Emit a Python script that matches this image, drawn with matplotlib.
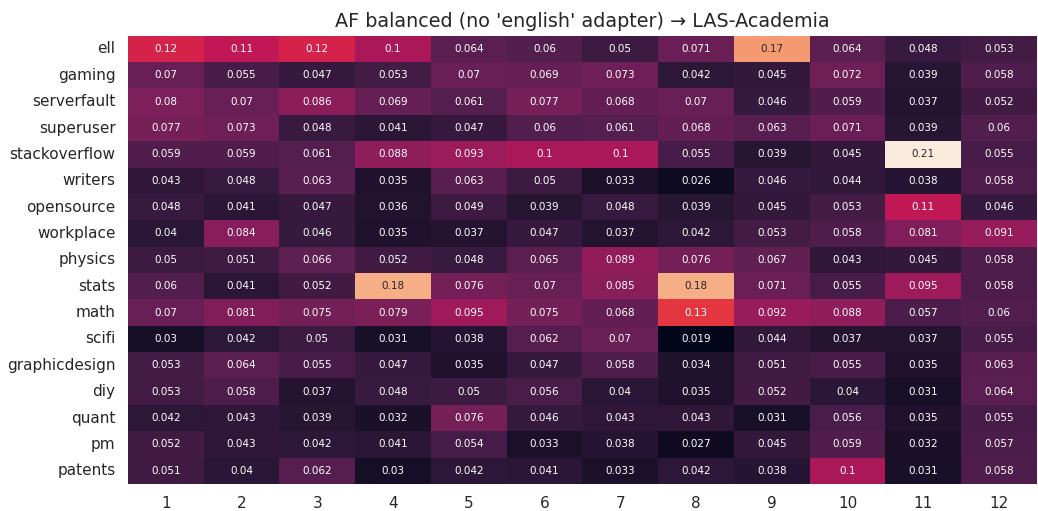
import numpy as np
import matplotlib
matplotlib.use("Agg")
import matplotlib.pyplot as plt
import seaborn as sns

sns.set_theme(style="white")

rows = ["ell", "gaming", "serverfault", "superuser", "stackoverflow", "writers",
        "opensource", "workplace", "physics", "stats", "math", "scifi",
        "graphicdesign", "diy", "quant", "pm", "patents"]
cols = [str(i) for i in range(1, 13)]

ell = [0.12, 0.11, 0.12, 0.1, 0.064, 0.06, 0.05, 0.071, 0.17, 0.064, 0.048, 0.053]
gaming = [0.07, 0.055, 0.047, 0.053, 0.07, 0.069, 0.073, 0.042, 0.045, 0.072, 0.039, 0.058]
serverfault = [0.08, 0.07, 0.086, 0.069, 0.061, 0.077, 0.068, 0.07, 0.046, 0.059, 0.037, 0.052]
superuser = [0.077, 0.073, 0.048, 0.041, 0.047, 0.06, 0.061, 0.068, 0.063, 0.071, 0.039, 0.06]
stackoverflow = [0.059, 0.059, 0.061, 0.088, 0.093, 0.1, 0.1, 0.055, 0.039, 0.045, 0.21, 0.055]
writers = [0.043, 0.048, 0.063, 0.035, 0.063, 0.05, 0.033, 0.026, 0.046, 0.044, 0.038, 0.058]
opensource = [0.048, 0.041, 0.047, 0.036, 0.049, 0.039, 0.048, 0.039, 0.045, 0.053, 0.11, 0.046]
workplace = [0.04, 0.084, 0.046, 0.035, 0.037, 0.047, 0.037, 0.042, 0.053, 0.058, 0.081, 0.091]
physics = [0.05, 0.051, 0.066, 0.052, 0.048, 0.065, 0.089, 0.076, 0.067, 0.043, 0.045, 0.058]
stats = [0.06, 0.041, 0.052, 0.18, 0.076, 0.07, 0.085, 0.18, 0.071, 0.055, 0.095, 0.058]
math = [0.07, 0.081, 0.075, 0.079, 0.095, 0.075, 0.068, 0.13, 0.092, 0.088, 0.057, 0.06]
scifi = [0.03, 0.042, 0.05, 0.031, 0.038, 0.062, 0.07, 0.019, 0.044, 0.037, 0.037, 0.055]
graphicdesign = [0.053, 0.064, 0.055, 0.047, 0.035, 0.047, 0.058, 0.034, 0.051, 0.055, 0.035, 0.063]
diy = [0.053, 0.058, 0.037, 0.048, 0.05, 0.056, 0.04, 0.035, 0.052, 0.04, 0.031, 0.064]
quant = [0.042, 0.043, 0.039, 0.032, 0.076, 0.046, 0.043, 0.043, 0.031, 0.056, 0.035, 0.055]
pm = [0.052, 0.043, 0.042, 0.041, 0.054, 0.033, 0.038, 0.027, 0.045, 0.059, 0.032, 0.057]
patents = [0.051, 0.04, 0.062, 0.03, 0.042, 0.041, 0.033, 0.042, 0.038, 0.1, 0.031, 0.058]

data = np.array([ell, gaming, serverfault, superuser, stackoverflow, writers,
                 opensource, workplace, physics, stats, math, scifi,
                 graphicdesign, diy, quant, pm, patents])

fig = plt.figure(figsize=(10.38, 5.11), dpi=100)
ax = fig.add_axes([0.1233, 0.053, 0.8757, 0.877])
sns.heatmap(data, ax=ax, cmap="rocket", annot=True, cbar=False,
            annot_kws={"fontsize": 7.5},
            xticklabels=cols, yticklabels=rows)
ax.tick_params(axis="both", length=0, labelsize=11, colors="#262626")
ax.tick_params(axis="x", pad=9)
ax.tick_params(axis="y", pad=9)
plt.setp(ax.get_yticklabels(), rotation=0)
ax.set_title("AF balanced (no 'english' adapter) \u2192 LAS-Academia",
             fontsize=13.8, color="#262626", pad=6)

plt.savefig("out.png", dpi=100)
